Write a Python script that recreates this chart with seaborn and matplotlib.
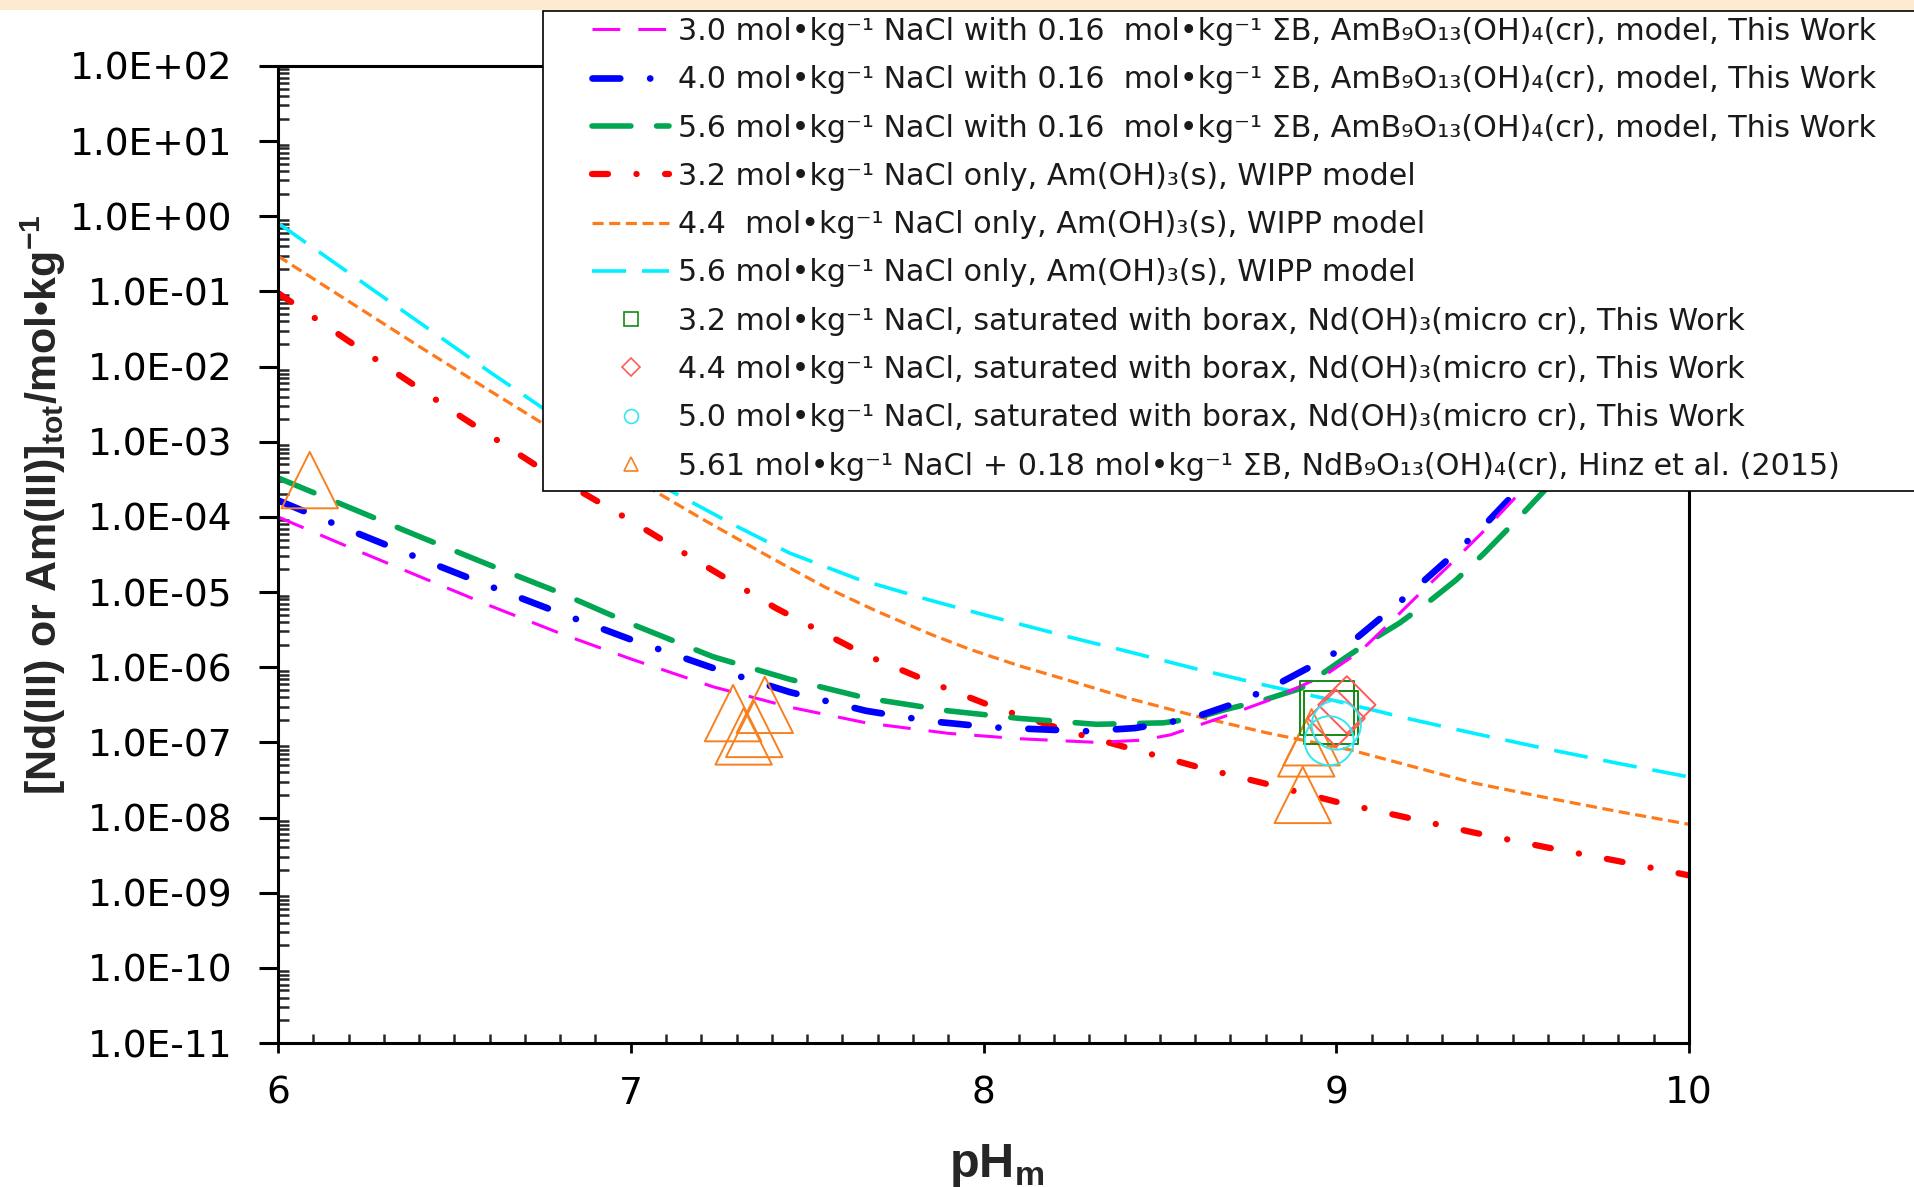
import matplotlib
matplotlib.use("Agg")
import matplotlib.pyplot as plt
import seaborn as sns
import numpy as np
from matplotlib.lines import Line2D
from matplotlib.patches import Rectangle
from matplotlib.ticker import FixedLocator, FixedFormatter, LogLocator, MultipleLocator, NullFormatter
from matplotlib.font_manager import FontProperties

# ---------------- data ----------------
ph_am30 = [6.0, 6.2, 6.4, 6.6, 6.8, 7.0, 7.233, 7.45, 7.667, 7.9, 8.1, 8.32, 8.45, 8.53, 8.68,
           8.82, 8.97, 9.07, 9.15, 9.23, 9.33, 9.42, 9.51, 9.6, 9.7]
c_am30 = [1.0e-4, 3.98e-5, 1.62e-5, 6.61e-6, 2.82e-6, 1.29e-6, 5.50e-7, 2.95e-7, 1.82e-7, 1.32e-7,
          1.12e-7, 1.0e-7, 1.07e-7, 1.26e-7, 2.19e-7, 3.80e-7, 7.94e-7, 1.66e-6, 3.80e-6, 8.91e-6,
          2.51e-5, 6.61e-5, 1.86e-4, 5.37e-4, 1.78e-3]

ph_am40 = [6.0, 6.2, 6.4, 6.6, 6.8, 7.0, 7.233, 7.45, 7.667, 7.85, 8.03, 8.29, 8.43, 8.59, 8.72,
           8.82, 8.92, 9.03, 9.13, 9.22, 9.325, 9.416, 9.507, 9.6, 9.7]
c_am40 = [1.66e-4, 6.76e-5, 2.82e-5, 1.20e-5, 5.25e-6, 2.34e-6, 9.77e-7, 4.68e-7, 2.63e-7, 1.91e-7,
          1.58e-7, 1.41e-7, 1.55e-7, 2.09e-7, 3.39e-7, 5.50e-7, 9.77e-7, 1.91e-6, 4.68e-6, 1.07e-5,
          2.95e-5, 7.41e-5, 2.09e-4, 6.31e-4, 2.0e-3]

ph_am56 = [6.0, 6.2, 6.4, 6.6, 6.8, 7.0, 7.233, 7.45, 7.667, 7.9, 8.1, 8.32, 8.51, 8.6, 8.68,
           8.8, 8.9, 9.03, 9.1, 9.18, 9.27, 9.34, 9.42, 9.52, 9.6, 9.7]
c_am56 = [3.31e-4, 1.35e-4, 5.50e-5, 2.29e-5, 9.77e-6, 3.80e-6, 1.38e-6, 6.92e-7, 3.89e-7, 2.63e-7,
          2.09e-7, 1.74e-7, 1.82e-7, 2.09e-7, 2.69e-7, 3.72e-7, 5.25e-7, 1.38e-6, 2.29e-6, 3.89e-6,
          7.94e-6, 1.45e-5, 3.31e-5, 1.0e-4, 2.51e-4, 7.94e-4]

ph_w32 = [6.0, 6.2, 6.4, 6.52, 6.74, 7.0, 7.2, 7.41, 7.667, 7.85, 8.03, 8.245, 8.4, 8.61, 8.8,
          9.0, 9.2, 9.39, 9.6, 9.8, 10.0]
c_w32 = [9.55e-2, 2.19e-2, 5.13e-3, 2.14e-3, 4.57e-4, 8.91e-5, 2.40e-5, 6.17e-6, 1.45e-6, 6.31e-7,
         2.95e-7, 1.38e-7, 8.71e-8, 4.68e-8, 2.82e-8, 1.62e-8, 1.0e-8, 6.31e-9, 3.98e-9, 2.63e-9, 1.70e-9]

ph_w44 = [6.0, 6.2, 6.4, 6.6, 6.8, 7.0, 7.2, 7.4, 7.55, 7.7, 7.85, 7.96, 8.1, 8.245, 8.4, 8.61,
          8.8, 9.04, 9.2, 9.39, 9.6, 9.8, 10.0]
c_w44 = [0.295, 7.41e-2, 1.86e-2, 4.79e-3, 1.26e-3, 3.39e-4, 9.55e-5, 2.82e-5, 1.17e-5, 5.50e-6,
         2.75e-6, 1.74e-6, 1.05e-6, 6.61e-7, 3.98e-7, 2.19e-7, 1.35e-7, 7.94e-8, 5.01e-8, 2.88e-8,
         1.82e-8, 1.20e-8, 8.13e-9]

ph_w56 = [6.0, 6.2, 6.4, 6.6, 6.75, 6.9, 7.1, 7.29, 7.45, 7.64, 7.85, 8.0, 8.245, 8.4, 8.61, 8.8,
          9.0, 9.2, 9.39, 9.6, 9.8, 10.0]
c_w56 = [0.813, 0.178, 3.89e-2, 8.51e-3, 2.82e-3, 9.55e-4, 2.40e-4, 7.94e-5, 3.31e-5, 1.51e-5,
         7.76e-6, 5.01e-6, 2.51e-6, 1.66e-6, 9.33e-7, 5.75e-7, 3.55e-7, 2.09e-7, 1.32e-7, 8.13e-8,
         5.25e-8, 3.47e-8]

ph_sq = [8.974, 8.985]
c_sq = [2.88e-7, 2.14e-7]
ph_dm = [9.03, 9.00]
c_dm = [3.16e-7, 2.09e-7]
ph_ci = [9.00, 8.98]
c_ci = [1.70e-7, 1.05e-7]
ph_tri = [6.09, 7.29, 7.38, 7.35, 7.32, 8.905, 8.915, 8.93]
c_tri = [3.09e-4, 2.45e-7, 3.16e-7, 1.51e-7, 1.20e-7, 2.0e-8, 8.32e-8, 1.17e-7]

legend_labels = [
    "3.0 mol•kg⁻¹ NaCl with 0.16  mol•kg⁻¹ ΣB, AmB₉O₁₃(OH)₄(cr), model, This Work",
    "4.0 mol•kg⁻¹ NaCl with 0.16  mol•kg⁻¹ ΣB, AmB₉O₁₃(OH)₄(cr), model, This Work",
    "5.6 mol•kg⁻¹ NaCl with 0.16  mol•kg⁻¹ ΣB, AmB₉O₁₃(OH)₄(cr), model, This Work",
    "3.2 mol•kg⁻¹ NaCl only, Am(OH)₃(s), WIPP model",
    "4.4  mol•kg⁻¹ NaCl only, Am(OH)₃(s), WIPP model",
    "5.6 mol•kg⁻¹ NaCl only, Am(OH)₃(s), WIPP model",
    "3.2 mol•kg⁻¹ NaCl, saturated with borax, Nd(OH)₃(micro cr), This Work",
    "4.4 mol•kg⁻¹ NaCl, saturated with borax, Nd(OH)₃(micro cr), This Work",
    "5.0 mol•kg⁻¹ NaCl, saturated with borax, Nd(OH)₃(micro cr), This Work",
    "5.61 mol•kg⁻¹ NaCl + 0.18 mol•kg⁻¹ ΣB, NdB₉O₁₃(OH)₄(cr), Hinz et al. (2015)",
]

x_ticks = [6, 7, 8, 9, 10]
x_tick_labels = ["6", "7", "8", "9", "10"]
y_ticks = [1e-11, 1e-10, 1e-9, 1e-8, 1e-7, 1e-6, 1e-5, 1e-4, 1e-3, 1e-2, 1e-1, 1e0, 1e1, 1e2]
y_tick_labels = ["1.0E-11", "1.0E-10", "1.0E-09", "1.0E-08", "1.0E-07", "1.0E-06", "1.0E-05",
                 "1.0E-04", "1.0E-03", "1.0E-02", "1.0E-01", "1.0E+00", "1.0E+01", "1.0E+02"]

# ---------------- styling ----------------
sns.set_style("white")
plt.rcParams["font.family"] = ["DejaVu Sans"]
plt.rcParams["lines.scale_dashes"] = False
plt.rcParams["mathtext.fontset"] = "custom"
plt.rcParams["mathtext.rm"] = "Liberation Sans"
plt.rcParams["mathtext.bf"] = "Liberation Sans:bold"

W, H = 1915, 1187
fig = plt.figure(figsize=(W / 100, H / 100), dpi=100, facecolor="white")
ax = fig.add_axes([278 / W, 1 - 1043 / H, (1689 - 278) / W, (1043 - 66) / H])
ax.set_facecolor("white")

line_specs = [
    # x, y, color, lw, dashes, cap
    (ph_w32, c_w32, "#ff0000", 4.5, (11.5, 20.5, 0.1, 20.5), "round"),
    (ph_w44, c_w44, "#ff7a1a", 2.3, (8, 4), "butt"),
    (ph_w56, c_w56, "#00f0ff", 2.6, (24.5, 11.5), "butt"),
    (ph_am56, c_am56, "#00a651", 4.0, (28, 18.5), "round"),
    (ph_am40, c_am40, "#0000ff", 4.8, (20, 21.5, 0.1, 21.5), "round"),
    (ph_am30, c_am30, "#ff00ff", 2.2, (20, 13), "butt"),
]
for xs, ys, col, lw, dsh, cap in line_specs:
    sns.lineplot(x=xs, y=ys, ax=ax, color=col, linewidth=lw, sort=False, estimator=None)
    ln = ax.lines[-1]
    ln.set_linestyle((0, dsh))
    ln.set_dash_capstyle(cap)

marker_specs = [
    (ph_tri, c_tri, "^", "#f7801f", 1650),
    (ph_sq, c_sq, "s", "#138a13", 1500),
    (ph_dm, c_dm, "D", "#ff5a5a", 850),
    (ph_ci, c_ci, "o", "#33e6f0", 1250),
]
for xs, ys, mk, col, sz in marker_specs:
    sns.scatterplot(x=xs, y=ys, ax=ax, marker=mk, s=sz, color=col, facecolor="none",
                    edgecolor=col, linewidth=1.4, zorder=5)

ax.set_yscale("log")
ax.set_xlim(6, 10)
ax.set_ylim(1e-11, 1e2)

ax.xaxis.set_major_locator(FixedLocator(x_ticks))
ax.xaxis.set_major_formatter(FixedFormatter(x_tick_labels))
ax.xaxis.set_minor_locator(MultipleLocator(0.1))
ax.yaxis.set_major_locator(FixedLocator(y_ticks))
ax.yaxis.set_major_formatter(FixedFormatter(y_tick_labels))
ax.yaxis.set_minor_locator(LogLocator(base=10, subs=np.arange(2, 10), numticks=100))
ax.yaxis.set_minor_formatter(NullFormatter())

for s in ax.spines.values():
    s.set_visible(True)
    s.set_color("black")
    s.set_linewidth(2.2)

ax.tick_params(axis="y", which="major", direction="out", length=13.5, width=2.2, pad=19,
               labelsize=27, left=True, right=False, colors="black")
ax.tick_params(axis="y", which="minor", direction="in", length=8, width=1.8, left=True, right=False)
ax.tick_params(axis="x", which="major", direction="out", length=7.5, width=2.0, pad=16,
               labelsize=27, bottom=True, top=False, colors="black")
ax.tick_params(axis="x", which="minor", direction="in", length=6.5, width=1.8, bottom=True, top=False)

ax.set_ylabel(r"[Nd(III) or Am(III)]$_{\mathbf{tot}}$/mol•kg$^{\mathbf{-1}}$", fontsize=31,
              fontweight="bold", family="Liberation Sans", va="center")
ax.yaxis.set_label_coords(-0.1666, 0.5507)
ax.set_xlabel(r"pH$_{\mathbf{m}}$", fontsize=35, fontweight="bold", family="Liberation Sans",
              va="center")
ax.xaxis.set_label_coords(0.509, -0.125)

# top decorative strip
fig.add_artist(Rectangle((0, 1 - 10 / H), 1, 10 / H, transform=fig.transFigure,
                         facecolor="#fdebd1", edgecolor="none", zorder=0))
# legend frame
fig.add_artist(Rectangle((543 / W, 1 - 491 / H), (W - 543) / W + 0.01, (491 - 11) / H,
                         transform=fig.transFigure, facecolor="white", edgecolor="black",
                         linewidth=1.2, zorder=3))

handles = []
for xs, ys, col, lw, dsh, cap in [line_specs[5], line_specs[4], line_specs[3],
                                  line_specs[0], line_specs[1], line_specs[2]]:
    handles.append(Line2D([0], [0], color=col, linewidth=lw, linestyle=(0, dsh),
                          dash_capstyle=cap))
for mk, col in [("s", "#138a13"), ("D", "#ff5a5a"), ("o", "#33e6f0"), ("^", "#f7801f")]:
    handles.append(Line2D([0], [0], linestyle="none", marker=mk, markersize=10 if mk != "D" else 9,
                          markerfacecolor="none", markeredgecolor=col, markeredgewidth=1.2))

leg_size = 21.7
leg = fig.legend(handles, legend_labels, loc="upper left", bbox_to_anchor=(592 / W, 1 - 17 / H),
                 frameon=False, prop=FontProperties(family=["DejaVu Sans"], size=leg_size),
                 handlelength=2.56, handletextpad=0.3, labelspacing=0.64, borderpad=0,
                 borderaxespad=0)
leg.set_zorder(6)
for t in leg.get_texts():
    t.set_color("#1a1a1a")

fig.savefig("out.png", dpi=100, facecolor="white")
